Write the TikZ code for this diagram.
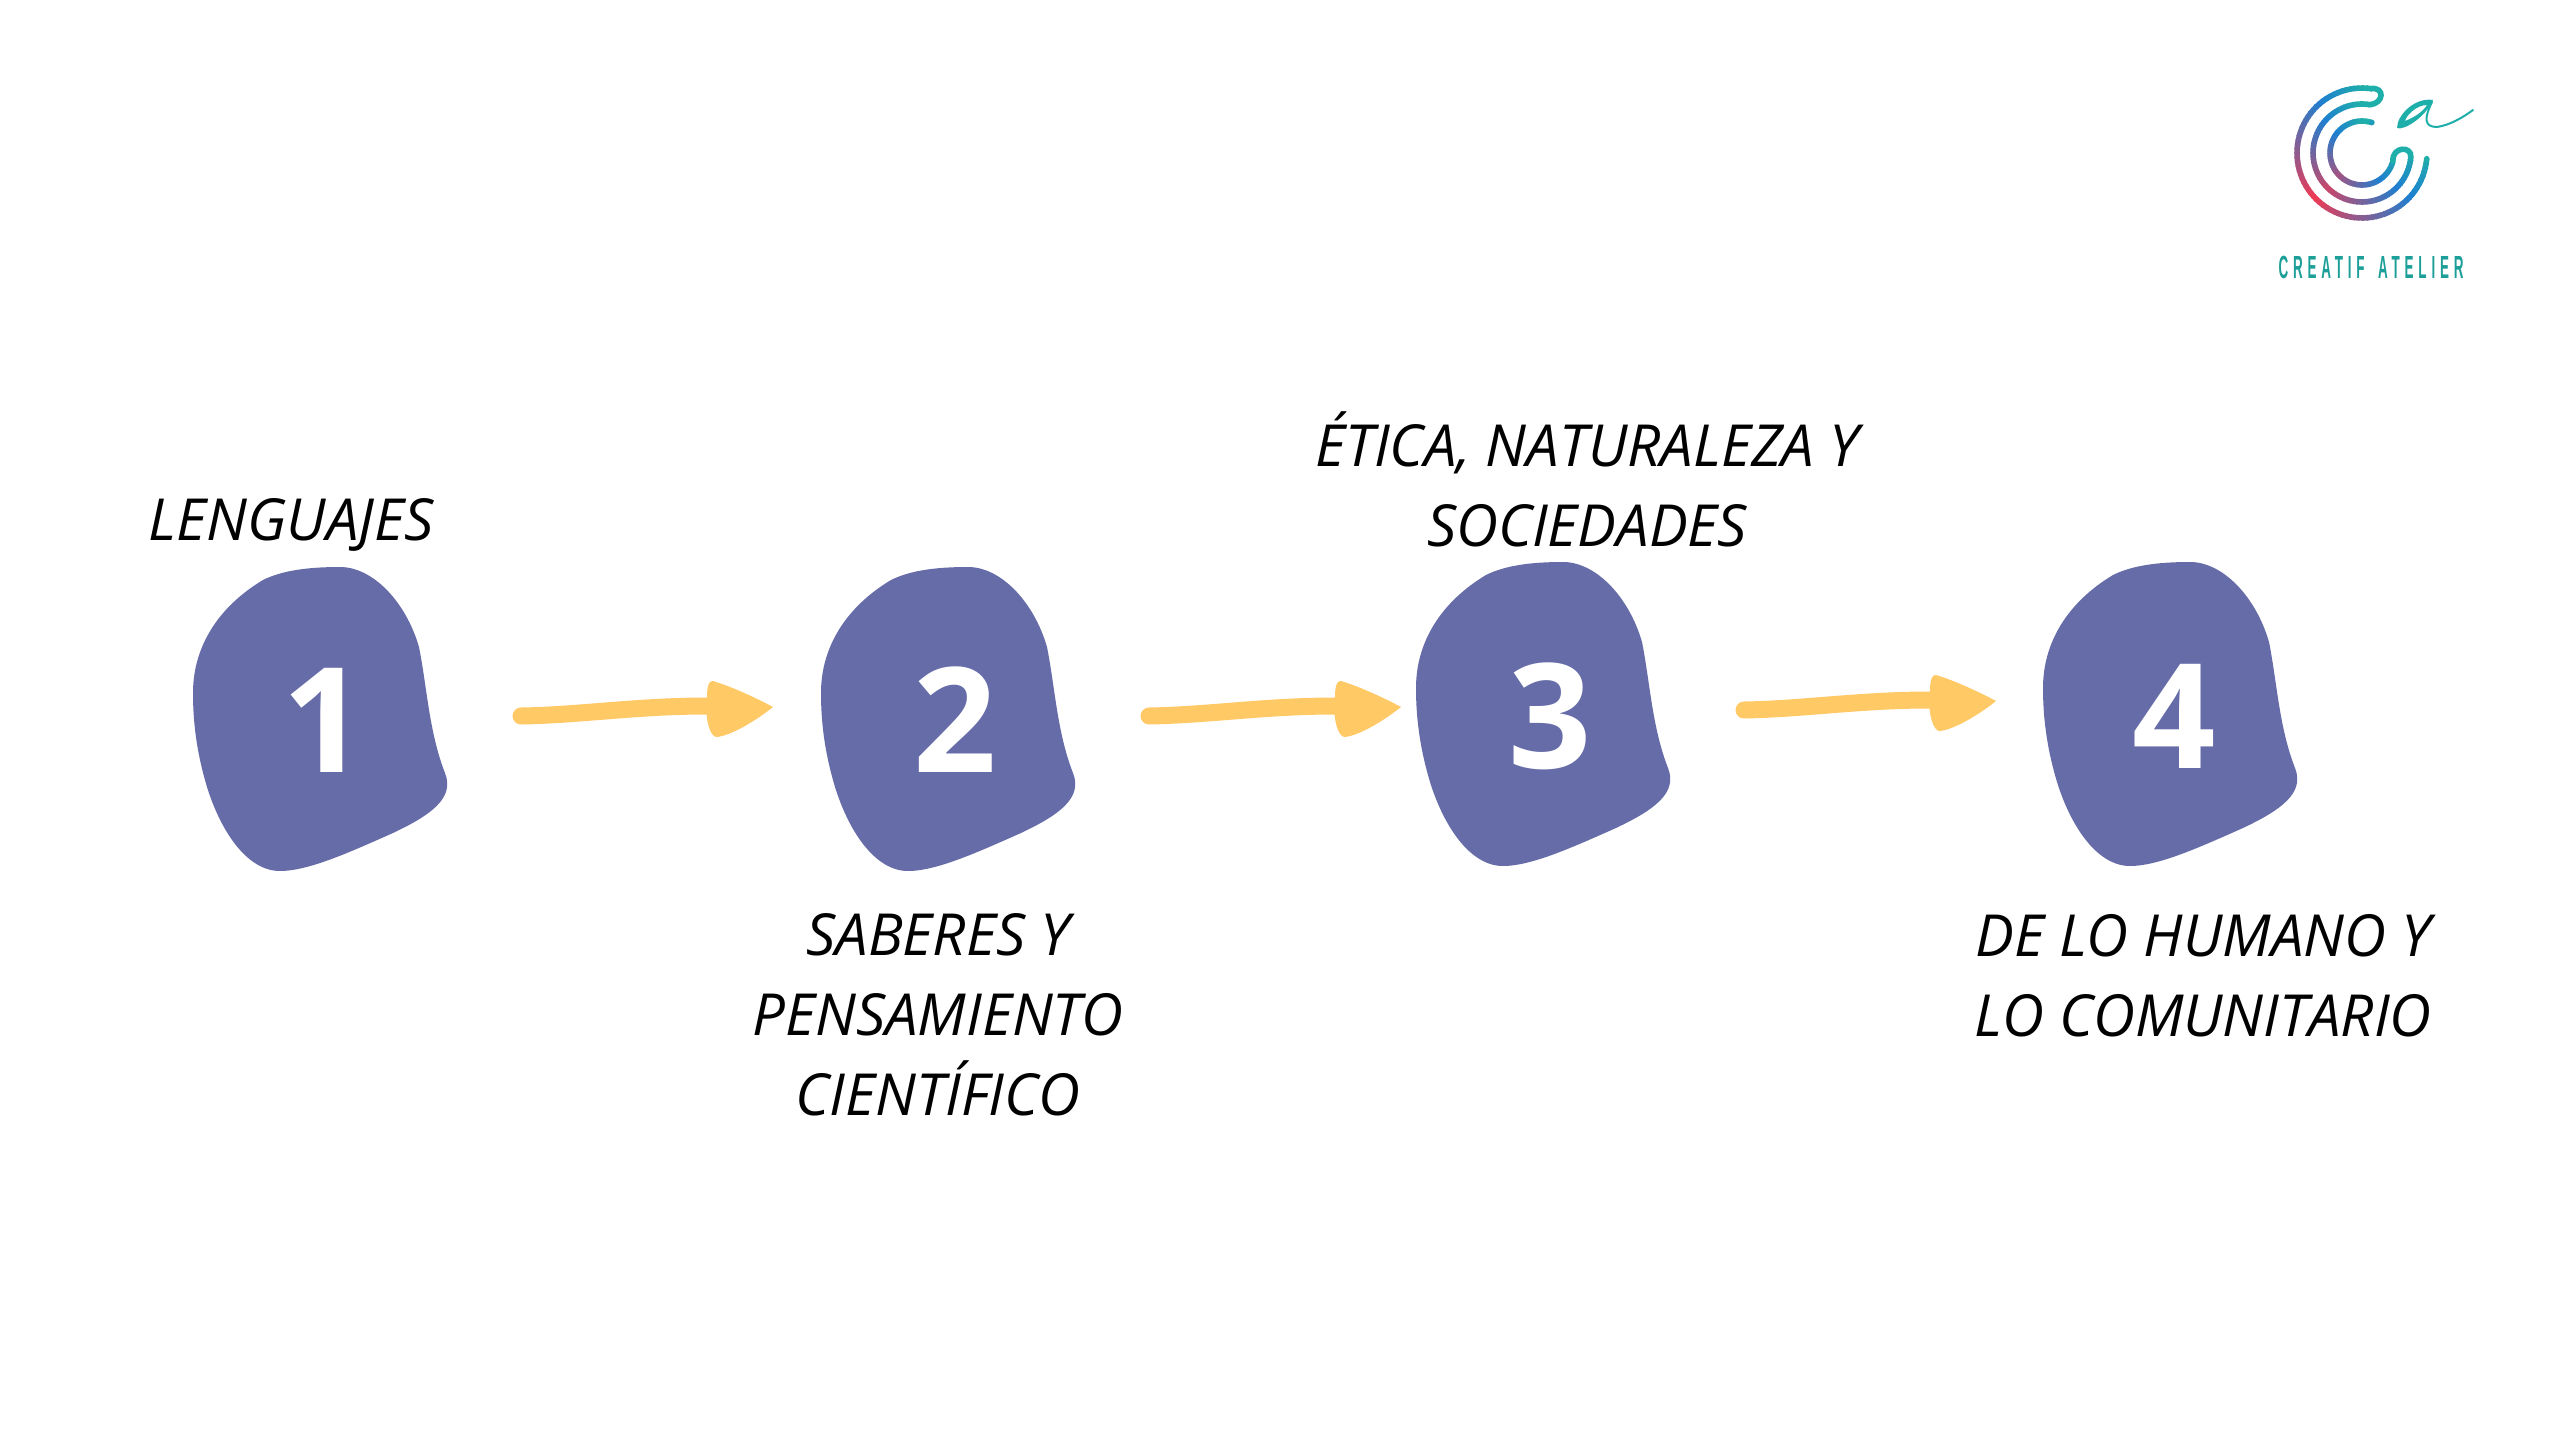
\documentclass[tikz,border=0pt]{standalone}
\usepackage{fontspec}
\setmainfont{Open Sans}
\newfontfamily\logofont[FakeStretch=0.42,LetterSpace=15,WordSpace=1.6,Ligatures=NoCommon]{Liberation Sans}
\definecolor{blobc}{HTML}{666CA8}
\definecolor{arrowc}{HTML}{FFC966}
\definecolor{teal1}{HTML}{1FAFAA}
\definecolor{blue1}{HTML}{1E7FD0}
\definecolor{red1}{HTML}{EE3B55}
\tikzset{
  x=1pt,y=-1pt,
  label text/.style={font=\fontsize{58}{80}\selectfont\itshape,align=center,text=black,inner sep=0pt},
  num/.style={font=\fontsize{146}{146}\selectfont\bfseries,text=white,inner sep=0pt},
  pics/blobshape/.style={code={
    \fill[blobc] (22,-140) .. controls (55,-140) and (88,-105) .. (101,-60)
      .. controls (109,-20) and (111,25) .. (127,66)
      .. controls (137,91) and (113,108) .. (75,126)
      .. controls (30,146) and (-10,164) .. (-38,164)
      .. controls (-72,164) and (-98,122) .. (-111,80)
      .. controls (-120,50) and (-125,20) .. (-125,-14)
      .. controls (-125,-60) and (-100,-100) .. (-55,-127)
      .. controls (-35,-137) and (-8,-140) .. (22,-140) -- cycle;
  }},
  pics/headshape/.style={code={
    \fill[arrowc] (-60,-26) .. controls (-40,-20) and (-15,-8) .. (0,0)
      .. controls (-15,12) and (-40,28) .. (-56,30)
      .. controls (-63,31) and (-68,10) .. (-66,0)
      .. controls (-66,-12) and (-67,-26) .. (-60,-26) -- cycle;
  }},
  flow/.style={arrowc,line width=17pt,line cap=round},
  ring/.style={line width=5.6pt,line cap=round},
}
\newcommand{\gradarc}[5]{% cx cy r startangle endangle
  \foreach \i in {0,...,71}{
    \pgfmathsetmacro{\aa}{#4+(#5-#4)/72*\i}
    \pgfmathsetmacro{\ab}{#4+(#5-#4)/72*(\i+1.25)}
    \pgfmathsetmacro{\dd}{acos(cos(\aa-225))}
    \pgfmathsetmacro{\pp}{min(\dd/135,1)}
    \pgfmathsetmacro{\kk}{(65-#3)/65}
    \pgfmathsetmacro{\p}{(\pp+\kk*0.5*(1-\pp))*100}
    \pgfmathsetmacro{\pa}{min(100,\p/0.7)}
    \pgfmathsetmacro{\pb}{max(0,(\p-70)/0.3)}
    \colorlet{cc}{blue1!\pa!red1}
    \ifdim\pb pt>0pt \colorlet{cc}{teal1!\pb!blue1}\fi
    \draw[cc,line width=5.6pt,line cap=butt] ({#1+#3*cos(\aa)},{#2-#3*sin(\aa)}) -- ({#1+#3*cos(\ab)},{#2-#3*sin(\ab)});
  }
}
\begin{document}
\begin{tikzpicture}
\useasboundingbox (0,0) rectangle (2560,1434);
\fill[white] (0,0) rectangle (2560,1434);
% blobs
\pic at (318,707) {blobshape};
\pic at (946,707) {blobshape};
\pic at (1541,702) {blobshape};
\pic at (2168,702) {blobshape};
\node[num] (n1) at (324,720) {1};
\node[num] (n2) at (955,720) {2};
\node[num] (n3) at (1550,716) {3};
\node[num] (n4) at (2174,716) {4};
% labels
\node[label text] (l1) at (291,525) {LENGUAJES};
\node[label text] (l2) at (938,1015) {SABERES Y\\PENSAMIENTO\\CIENTÍFICO};
\node[label text] (l3) at (1587,479) {ÉTICA, NATURALEZA Y\\SOCIEDADES};
\node[label text] (l4) at (2203,976) {DE LO HUMANO Y\\LO COMUNITARIO};
% arrows
\foreach \sx/\sy/\nm in {521/716/a,1149/716/b,1744/710/c}{
  \coordinate (\nm s) at (\sx,\sy);
  \coordinate (\nm e) at (\sx+186,\sy-10);
  \coordinate (\nm t) at (\sx+252,\sy-9);
  \draw[flow] (\nm s) .. controls +(60,-1) and +(-70,0) .. (\nm e);
  \pic at (\nm t) {headshape};
}
% logo rings
\gradarc{2362}{153}{65}{-5}{-278}
\gradarc{2362}{153}{49}{-280}{-5}
\gradarc{2362}{153}{32}{-15}{-288}
\draw[ring,teal1] (2371,88.6) .. controls (2385,87) and (2384,103) .. (2370,104.8);
\draw[ring,teal1] (2410.8,157) .. controls (2412,146) and (2392,146) .. (2392.9,161.3);
\fill[teal1] (2426.7,158.7) circle (2.8pt);
\fill[blue1!40!teal1] (2371.9,122.5) circle (2.8pt);
% logo script a
\fill[teal1,even odd rule] (2433,100) .. controls (2415,97) and (2397,115) .. (2397,128)
  .. controls (2403,131) and (2425,118) .. (2433,100) -- cycle
  (2427,105) .. controls (2416,105) and (2406,116) .. (2405,121)
  .. controls (2413,118) and (2423,112) .. (2427,105) -- cycle;
\draw[teal1,line width=2pt,line cap=round]
  (2432,102) .. controls (2424,118) and (2424,127) .. (2437,127)
  .. controls (2450,125) and (2462,118) .. (2473,110);
% logo text
\node[inner sep=0pt,text=teal1!90!black,font=\logofont\bfseries\fontsize{32}{32}\selectfont] (logotext) at (2371,267) {CREATIF ATELIER};
\end{tikzpicture}
\end{document}
